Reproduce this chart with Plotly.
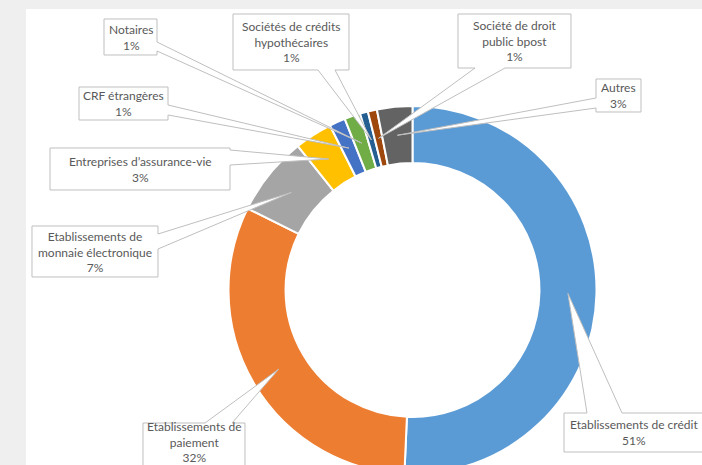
import math
import plotly.graph_objects as go

# ---- data ----
labels = ["Etablissements de crédit", "Etablissements de paiement",
          "Etablissements de monnaie électronique", "Entreprises d’assurance-vie",
          "CRF étrangères", "Notaires", "Sociétés de crédits hypothécaires",
          "Société de droit public bpost", "Autres"]
values = [50.7, 31.6, 7.0, 3.3, 1.4, 1.4, 0.7, 0.8, 3.1]
label_lines = [["Etablissements de crédit"], ["Etablissements de", "paiement"],
               ["Etablissements de", "monnaie électronique"], ["Entreprises d’assurance-vie"],
               ["CRF étrangères"], ["Notaires"], ["Sociétés de crédits", "hypothécaires"],
               ["Société de droit", "public bpost"], ["Autres"]]
colors = ["#5b9bd5", "#ed7d31", "#a5a5a5", "#ffc000", "#4472c4",
          "#70ad47", "#255e91", "#9e480e", "#636363"]

# ---- layout (pixels) ----
W, H = 702, 480
cx, cy, R = 412.5, 290.0, 184.0
HOLE = 0.69

# callout boxes: x0, y0, x1, y1, side of pointer, base start, base end, text centre y
boxes = [
    (564, 413, 704, 452, "top", 587, 622, None),
    (143, 423, 245, 476, "top", 205, 232, 442),
    (32, 226, 158, 277, "right", 234, 249, None),
    (50, 148, 230, 190, "right", 150, 165, None),
    (79, 87, 168, 120, "right", 105, 115, None),
    (104, 19, 157, 55, "right", 42, 51, None),
    (233, 14, 349, 70, "bottom", 318, 335, None),
    (458, 14, 571, 68, "bottom", 475, 505, None),
    (596, 79, 641, 112, "left", 98, 108, None),
]

def X(px):
    return px / W

def Y(py):
    return 1 - py / H

fig = go.Figure()
fig.add_trace(go.Pie(
    labels=labels, values=values, sort=False, direction="clockwise", rotation=0,
    hole=HOLE, marker=dict(colors=colors, line=dict(color="white", width=2)),
    textinfo="none", hoverinfo="label+percent", showlegend=False,
    domain=dict(x=[X(cx - R), X(cx + R)], y=[Y(cy + R), Y(cy - R)]),
))

shapes = [dict(type="rect", xref="paper", yref="paper", x0=X(26), x1=1, y0=0, y1=Y(9),
               fillcolor="white", line=dict(width=0), layer="below")]
annotations = []
total = sum(values)
cum = 0.0
rmid = R * (1 + HOLE) / 2
for i, v in enumerate(values):
    theta = 2 * math.pi * (cum + v / 2) / total
    cum += v
    tx = cx + rmid * math.sin(theta)
    ty = cy - rmid * math.cos(theta)
    x0, y0, x1, y1, side, a, b, tyc = boxes[i]
    if side == "top":
        pts = [(x0, y0), (a, y0), (tx, ty), (b, y0), (x1, y0), (x1, y1), (x0, y1)]
    elif side == "right":
        pts = [(x0, y0), (x1, y0), (x1, a), (tx, ty), (x1, b), (x1, y1), (x0, y1)]
    elif side == "bottom":
        pts = [(x0, y0), (x1, y0), (x1, y1), (b, y1), (tx, ty), (a, y1), (x0, y1)]
    else:
        pts = [(x0, y0), (x1, y0), (x1, y1), (x0, y1), (x0, b), (tx, ty), (x0, a)]
    path = "M " + " L ".join(f"{X(p[0]):.5f},{Y(p[1]):.5f}" for p in pts) + " Z"
    shapes.append(dict(type="path", xref="paper", yref="paper", path=path,
                       fillcolor="white", line=dict(color="#bfbfbf", width=1), layer="above"))
    pct = round(v / total * 100)
    text = "<br>".join(label_lines[i] + [f"{pct}%"])
    yc = tyc if tyc is not None else (y0 + y1) / 2
    annotations.append(dict(x=X((x0 + x1) / 2), y=Y(yc), xref="paper", yref="paper",
                            text=text, showarrow=False, xanchor="center", yanchor="middle",
                            font=dict(family="Lato", size=12, color="#595959")))

fig.update_layout(width=W, height=H, margin=dict(l=0, r=0, t=0, b=0),
                  paper_bgcolor="#efefef", plot_bgcolor="#efefef",
                  shapes=shapes, annotations=annotations)

fig.write_html("out.html", config={"displayModeBar": False},
               post_script="document.documentElement.style.overflow='hidden';document.body.style.overflow='hidden';")
